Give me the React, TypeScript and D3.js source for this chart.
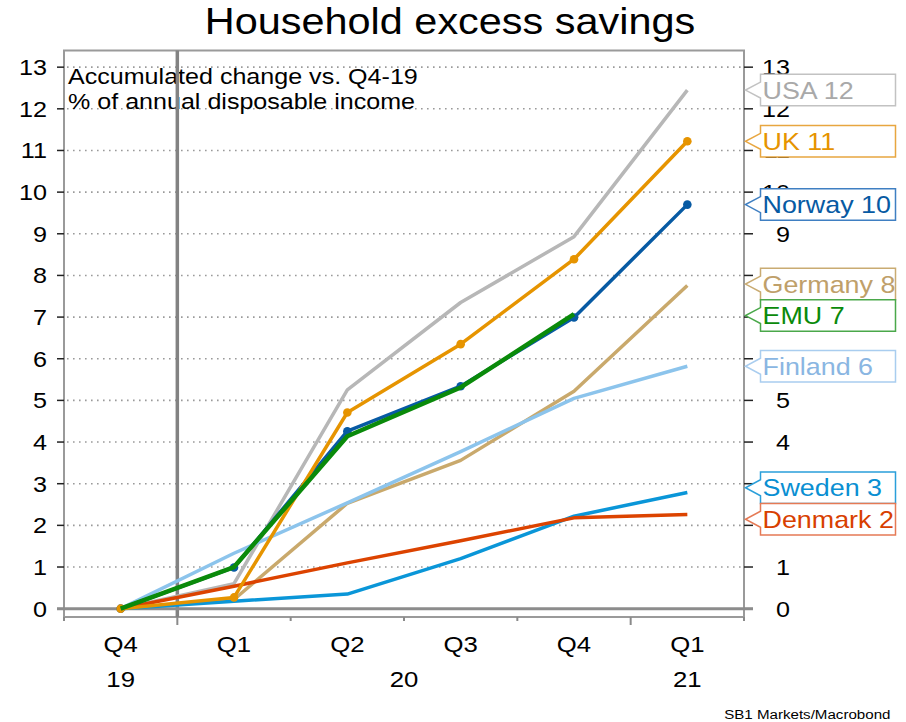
import React from "react";
import * as d3 from "d3";

const quarterLabels = ["Q4", "Q1", "Q2", "Q3", "Q4", "Q1"];
const yearLabels = ["19", "20", "21"];
const yearFirstQuarter = [0, 1, 5];
const yearLastQuarter = [0, 4, 5];
const yTicks = [0, 1, 2, 3, 4, 5, 6, 7, 8, 9, 10, 11, 12, 13];

const usa = [0, 0.6, 5.25, 7.35, 8.93, 12.45];
const uk = [0, 0.27, 4.71, 6.35, 8.39, 11.22];
const norway = [0, 0.99, 4.26, 5.34, 6.99, 9.7];
const germany = [0, 0.22, 2.53, 3.56, 5.22, 7.76];
const emu = [0, 1.0, 4.14, 5.31, 7.07, null];
const finland = [0, 1.33, 2.54, 3.77, 5.05, 5.82];
const sweden = [0, 0.18, 0.35, 1.2, 2.22, 2.79];
const denmark = [0, 0.54, 1.1, 1.63, 2.18, 2.26];

type S = { name: string; values: (number | null)[]; color: string; text: string; box: string; width: number; markers: boolean };

const series: S[] = [
  { name: "USA", values: usa, color: "#b7b7b7", text: "#a9a9a9", box: "#c2c2c2", width: 3.5, markers: false },
  { name: "Germany", values: germany, color: "#c9a96c", text: "#bfa06a", box: "#c9ab72", width: 3.5, markers: false },
  { name: "Finland", values: finland, color: "#8cc4ec", text: "#8ab6e2", box: "#a9cdef", width: 3.5, markers: false },
  { name: "Sweden", values: sweden, color: "#0a96d8", text: "#0a8fd2", box: "#2a9fda", width: 3.5, markers: false },
  { name: "Denmark", values: denmark, color: "#dc4300", text: "#d84000", box: "#e57a55", width: 3.5, markers: false },
  { name: "Norway", values: norway, color: "#075aa3", text: "#075aa3", box: "#3f7fc2", width: 3.5, markers: true },
  { name: "UK", values: uk, color: "#e69400", text: "#e69400", box: "#e8a640", width: 3.5, markers: true },
  { name: "EMU", values: emu, color: "#0a8a0a", text: "#0a8a0a", box: "#4aa84a", width: 4.5, markers: false },
];

const FONT = "'Liberation Sans', Arial, Helvetica, sans-serif";
const SX = 1.12;

function T(props: { x: number; y: number; size: number; anchor?: string; fill?: string; children: React.ReactNode }) {
  const { x, y, size, anchor = "start", fill = "#000", children } = props;
  return (
    <text
      transform={`translate(${x},${y}) scale(${SX},1)`}
      fontFamily={FONT}
      fontSize={size}
      textAnchor={anchor}
      fill={fill}
    >
      {children}
    </text>
  );
}

export default function App() {
  const left = 64, right = 744, top = 50.5, bottom = 617;
  const x = d3.scalePoint<number>().domain(d3.range(quarterLabels.length)).range([left, right]).padding(0.5);
  const step = x.step();
  const y = d3.scaleLinear().domain([-0.2, 13.4]).range([bottom, top]);

  const line = d3
    .line<number | null>()
    .defined((d) => d !== null)
    .x((_, i) => x(i) as number)
    .y((d) => y(d as number));

  const boxH = 31.5;
  const labels = series
    .map((s) => {
      const vals = s.values.filter((v) => v !== null) as number[];
      const last = vals[vals.length - 1];
      return { s, last, y: y(last) };
    })
    .sort((a, b) => a.y - b.y);
  for (let it = 0; it < 60; it++) {
    for (let i = 1; i < labels.length; i++) {
      const gap = labels[i].y - labels[i - 1].y;
      if (gap < boxH) {
        const d = (boxH - gap) / 2;
        labels[i].y += d;
        labels[i - 1].y -= d;
      }
    }
  }
  const boxL = 760.5, boxR = 895.5, tipX = 745.5;

  const boundaries = d3.range(quarterLabels.length + 1).map((i) => left + i * step);

  return (
    <svg
      width={906}
      height={722}
      style={{ position: "absolute", left: 0, top: 0, background: "#fff" }}
    >
      <rect x={0} y={0} width={906} height={722} fill="#fff" />
      {yTicks.filter((t) => t > 0).map((t) => (
        <line key={"g" + t} x1={left + 3} x2={right} y1={y(t)} y2={y(t)} stroke="#9a9a9a" strokeWidth={1.6} strokeDasharray="1.6 4.4" />
      ))}
      <T x={450} y={34} size={37} anchor="middle">Household excess savings</T>
      <T x={68} y={84} size={22.4}>Accumulated change vs. Q4-19</T>
      <T x={68} y={109} size={22.4}>% of annual disposable income</T>

      <path d={`M${left},${bottom} V${top} H${right} V${bottom}`} fill="none" stroke="#9a9a9a" strokeWidth={2} />
      <line x1={left} x2={right} y1={bottom} y2={bottom} stroke="#9a9a9a" strokeWidth={2} />

      <line x1={boundaries[1]} x2={boundaries[1]} y1={top} y2={bottom} stroke="#828282" strokeWidth={3.5} />

      {boundaries.map((bx, i) => {
        const long = yearFirstQuarter.includes(i) && i > 0;
        return <line key={"bt" + i} x1={bx} x2={bx} y1={bottom} y2={bottom + (long ? 8 : 4)} stroke="#8a8a8a" strokeWidth={2} />;
      })}

      {yTicks.map((t) => (
        <g key={"yt" + t}>
          <line x1={57} x2={left} y1={y(t)} y2={y(t)} stroke="#222" strokeWidth={1.5} />
          <line x1={right} x2={753} y1={y(t)} y2={y(t)} stroke="#222" strokeWidth={1.5} />
          <T x={47} y={y(t) + 8} size={22.5} anchor="end">{t}</T>
          <T x={790} y={y(t) + 8} size={22.5} anchor="end">{t}</T>
        </g>
      ))}

      <line x1={57} x2={753} y1={y(0)} y2={y(0)} stroke="#8c8c8c" strokeWidth={3} />

      {quarterLabels.map((q, i) => (
        <T key={"q" + i} x={x(i) as number} y={651.5} size={23} anchor="middle">{q}</T>
      ))}
      {yearLabels.map((yl, i) => {
        const cx = (boundaries[yearFirstQuarter[i]] + boundaries[yearLastQuarter[i] + 1]) / 2;
        return <T key={"y" + i} x={cx} y={686.5} size={23} anchor="middle">{yl}</T>;
      })}

      {series.map((s) => (
        <g key={s.name}>
          <path d={line(s.values) || ""} fill="none" stroke={s.color} strokeWidth={s.width} strokeLinejoin="round" />
          {s.markers &&
            s.values.map((v, i) =>
              v === null ? null : <circle key={i} cx={x(i) as number} cy={y(v)} r={4.3} fill={s.color} />
            )}
        </g>
      ))}

      {labels.map(({ s, last, y: ly }) => {
        const t0 = ly - boxH / 2;
        const t1 = ly + boxH / 2;
        const d = `M${boxL},${ly - 8} V${t0} H${boxR} V${t1} H${boxL} V${ly + 8} L${tipX},${ly} Z`;
        return (
          <g key={"lb" + s.name}>
            <path d={d} fill="#fff" stroke={s.box} strokeWidth={1.5} />
            <T x={762.5} y={ly + 8.6} size={24} fill={s.text}>{`${s.name} ${Math.round(last)}`}</T>
          </g>
        );
      })}

      <T x={890.5} y={719} size={13.5} anchor="end">SB1 Markets/Macrobond</T>
    </svg>
  );
}
